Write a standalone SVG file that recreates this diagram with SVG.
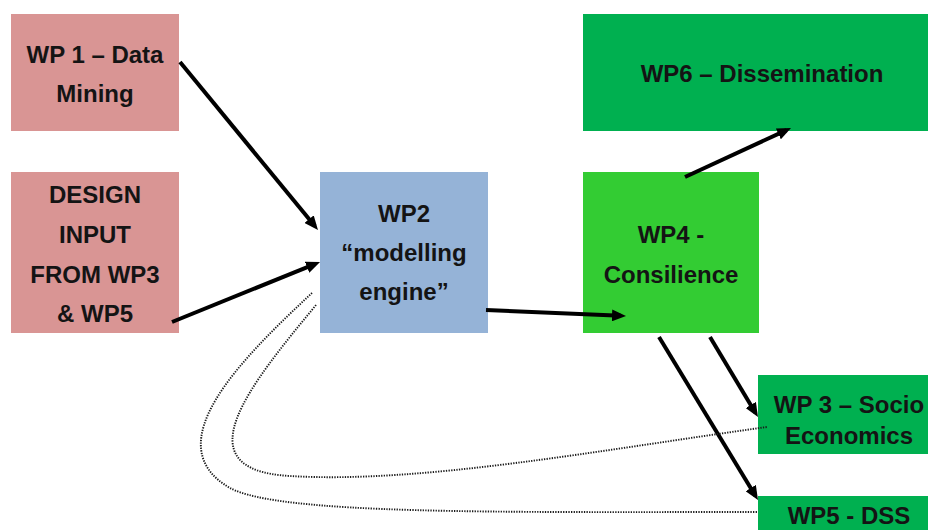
<svg xmlns="http://www.w3.org/2000/svg" width="928" height="530" viewBox="0 0 928 530">
<style>
text{font-family:"Liberation Sans",Arial,sans-serif;font-weight:bold;font-size:24px;fill:#141414;text-anchor:middle}
.pink{fill:#d99594}
.blue{fill:#95b3d7}
.lime{fill:#33cc33}
.green{fill:#00b050}
.arr{stroke:#000;stroke-width:4;fill:none;marker-end:url(#ah)}
.dot{stroke:#1a1a1a;stroke-width:1.9;fill:none;stroke-dasharray:1.3 1.3}
</style>
<defs>
<marker id="ah" markerUnits="userSpaceOnUse" markerWidth="14" markerHeight="12" refX="9" refY="6" orient="auto">
<path d="M0,0 L14,6 L0,12 z" fill="#000"/>
</marker>
</defs>
<rect width="928" height="530" fill="#fff"/>
<g id="wp1"><rect class="pink" x="11" y="14" width="168" height="117"/><text x="95" y="63">WP 1 – Data</text><text x="95" y="102">Mining</text></g>
<g id="design"><rect class="pink" x="11" y="172" width="168" height="161"/><text x="95" y="203">DESIGN</text><text x="95" y="243">INPUT</text><text x="95" y="283">FROM WP3</text><text x="95" y="322">&amp; WP5</text></g>
<g id="wp2"><rect class="blue" x="320" y="172" width="168" height="161"/><text x="404" y="222">WP2</text><text x="404" y="261">“modelling</text><text x="404" y="300">engine”</text></g>
<g id="wp4"><rect class="lime" x="583" y="172" width="176" height="161"/><text x="671" y="243">WP4 -</text><text x="671" y="283">Consilience</text></g>
<g id="wp6"><rect class="green" x="583" y="14" width="360" height="117"/><text x="762" y="82">WP6 – Dissemination</text></g>
<g id="wp3"><rect class="green" x="758" y="375" width="182" height="79"/><text x="849" y="413">WP 3 – Socio</text><text x="849" y="444">Economics</text></g>
<g id="wp5"><rect class="green" x="758" y="496" width="182" height="40"/><text x="849" y="524">WP5 - DSS</text></g>
<g id="connectors">
<line class="arr" x1="180" y1="62" x2="314.8" y2="226.1"/>
<line class="arr" x1="172" y1="322" x2="315.4" y2="263.9"/>
<line class="arr" x1="486" y1="310" x2="621" y2="315.8"/>
<line class="arr" x1="685" y1="177" x2="786.5" y2="130.1"/>
<line class="arr" x1="710" y1="337" x2="755.4" y2="412.7"/>
<line class="arr" x1="659" y1="337" x2="755.4" y2="495.7"/>
<path class="dot" d="M312,293 C240,360 155,445 230,488 C280,515 500,512 758,512"/>
<path class="dot" d="M316,305 C250,385 180,470 290,476 C420,484 600,450 767,427"/>
</g>
</svg>
